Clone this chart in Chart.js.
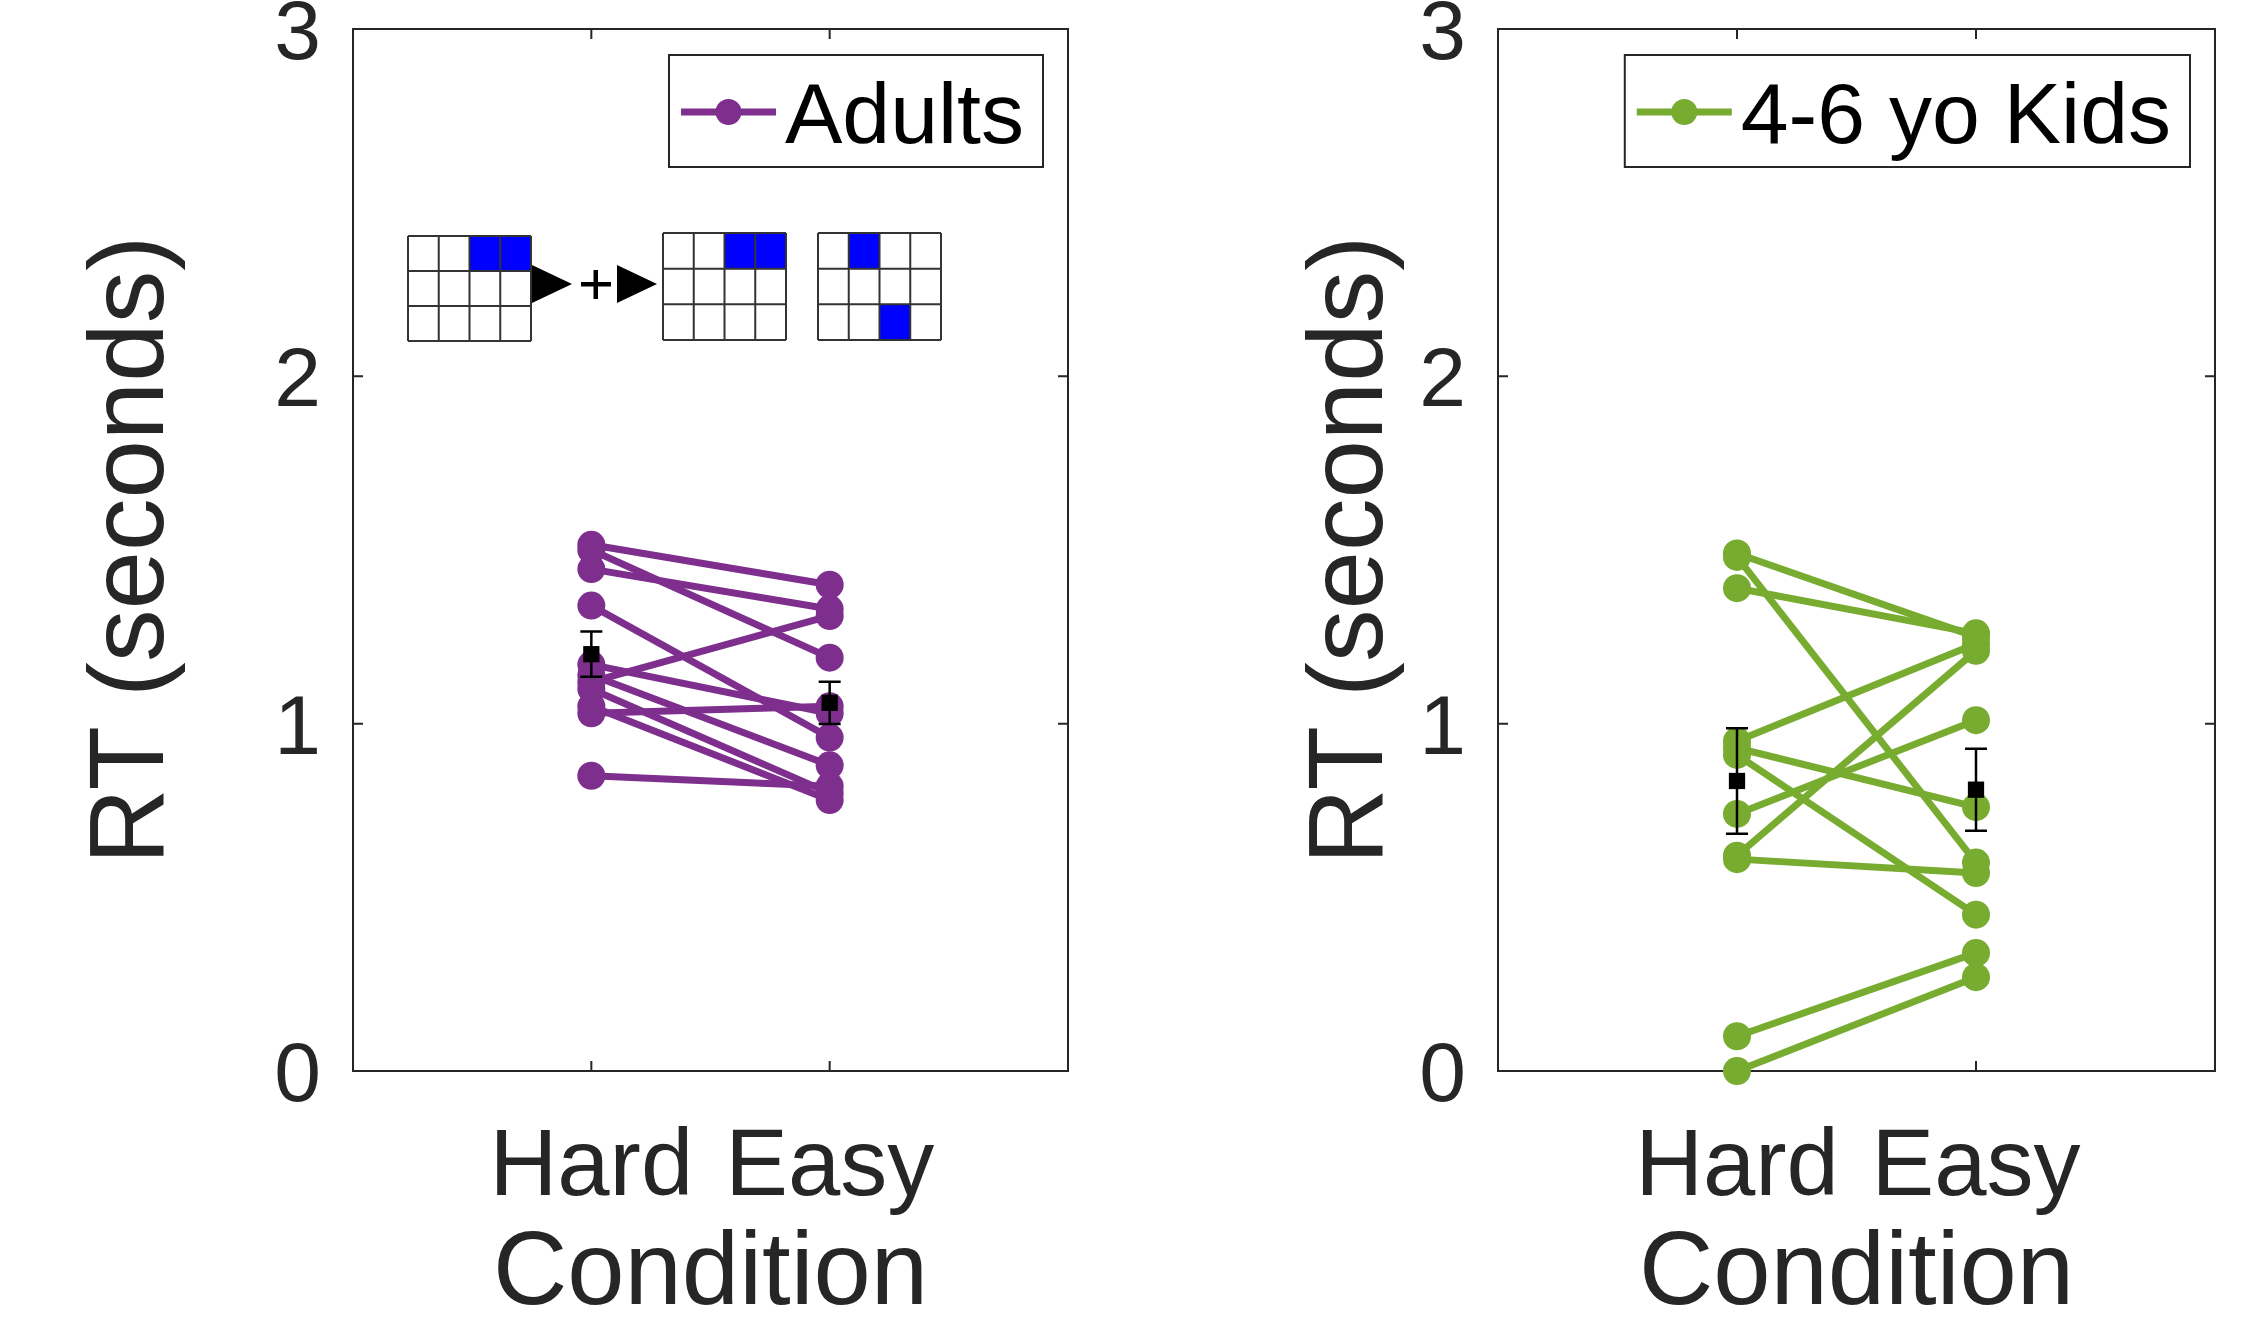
<!DOCTYPE html>
<html>
<head>
<meta charset="utf-8">
<script src="https://cdn.jsdelivr.net/npm/chart.js@4.4.1/dist/chart.umd.min.js"></script>
<style>
  html, body { margin: 0; padding: 0; background: #fff; }
  #wrap { position: relative; width: 2258px; height: 1324px; }
  canvas { position: absolute; top: 0; }
  #adults { left: 0; }
  #kids { left: 1129px; }
</style>
</head>
<body>
<div id="wrap">
  <canvas id="adults" width="1129" height="1324"></canvas>
  <canvas id="kids" width="1129" height="1324"></canvas>
</div>
<script>
// x categories (placed at x = 1, 2 on a 0..3 axis)
const conditions = ["Hard", "Easy"];
const yTicks = [0, 1, 2, 3];

// RT in seconds per subject
const adultsHard = [1.515, 1.50, 1.445, 1.34, 1.17, 1.14, 1.12, 1.10, 1.05, 1.03, 0.85];
const adultsEasy = [1.40, 1.19, 1.33, 0.96, 1.03, 0.88, 1.31, 0.80, 0.78, 1.05, 0.82];
const kidsHard = [1.49, 1.48, 1.39, 0.95, 0.93, 0.91, 0.74, 0.62, 0.61, 0.10, 0.00];
const kidsEasy = [1.25, 0.60, 1.26, 1.23, 0.76, 0.45, 1.01, 1.21, 0.57, 0.34, 0.27];

// group means and error bars (Hard, Easy)
const adultsMean = [1.20, 1.06];
const adultsErr = [0.065, 0.061];
const kidsMean = [0.835, 0.81];
const kidsErr = [0.152, 0.118];

const PURPLE = "#7E2F8E";
const GREEN = "#77AC30";
const AXIS = "#262626";
const FONT = "'Liberation Sans', Arial, sans-serif";

Chart.defaults.font.family = FONT;
Chart.defaults.color = AXIS;

// box round the plot with inward ticks on all four sides
const axesBox = {
  id: "axesBox",
  beforeDatasetsDraw(chart) {
    const { ctx, chartArea: a, scales: { x, y } } = chart;
    const len = 10;
    ctx.save();
    ctx.strokeStyle = AXIS;
    ctx.lineWidth = 2;
    ctx.strokeRect(a.left, a.top, a.right - a.left, a.bottom - a.top);
    ctx.beginPath();
    x.ticks.forEach(t => {
      const px = x.getPixelForValue(t.value);
      ctx.moveTo(px, a.bottom); ctx.lineTo(px, a.bottom - len);
      ctx.moveTo(px, a.top); ctx.lineTo(px, a.top + len);
    });
    y.ticks.forEach(t => {
      const py = y.getPixelForValue(t.value);
      ctx.moveTo(a.left, py); ctx.lineTo(a.left + len, py);
      ctx.moveTo(a.right, py); ctx.lineTo(a.right - len, py);
    });
    ctx.stroke();
    ctx.restore();
  }
};

// black error bars round the group means
const errorBars = {
  id: "errorBars",
  afterDatasetsDraw(chart, args, opts) {
    const { ctx, scales: { x, y } } = chart;
    ctx.save();
    ctx.strokeStyle = "#000";
    ctx.lineWidth = 2.5;
    ctx.beginPath();
    opts.mean.forEach((m, i) => {
      const px = x.getPixelForValue(i + 1);
      const top = y.getPixelForValue(m + opts.err[i]);
      const bot = y.getPixelForValue(m - opts.err[i]);
      ctx.moveTo(px, top); ctx.lineTo(px, bot);
      ctx.moveTo(px - 11, top); ctx.lineTo(px + 11, top);
      ctx.moveTo(px - 11, bot); ctx.lineTo(px + 11, bot);
    });
    ctx.stroke();
    ctx.restore();
  }
};

// legend in a box: line + marker sample, then the label
const lineLegend = {
  id: "lineLegend",
  afterDraw(chart, args, opts) {
    const { ctx, chartArea: a } = chart;
    ctx.save();
    ctx.font = "86px " + FONT;
    const tw = ctx.measureText(opts.text).width;
    const w = 12 + 95 + 9 + tw + 19;
    const h = 112;
    const bx = a.right - 25 - w;
    const by = a.top + 26;
    ctx.fillStyle = "#fff";
    ctx.fillRect(bx, by, w, h);
    ctx.strokeStyle = AXIS;
    ctx.lineWidth = 2;
    ctx.strokeRect(bx, by, w, h);
    const cy = by + 57;
    ctx.strokeStyle = opts.color;
    ctx.lineWidth = 7;
    ctx.beginPath();
    ctx.moveTo(bx + 12, cy); ctx.lineTo(bx + 107, cy);
    ctx.stroke();
    ctx.fillStyle = opts.color;
    ctx.beginPath();
    ctx.arc(bx + 59.5, cy, 13, 0, Math.PI * 2);
    ctx.fill();
    ctx.fillStyle = "#000";
    ctx.textBaseline = "alphabetic";
    ctx.fillText(opts.text, bx + 116, by + 88);
    ctx.restore();
  }
};

// task illustration in the adults panel (grids, arrows, plus)
const taskInset = {
  id: "taskInset",
  afterDraw(chart, args, opts) {
    if (!opts.show) return;
    const { ctx, chartArea: a } = chart;
    const ox = a.left, oy = a.top;
    const grid = (gx, gy, w, h, blue) => {
      const cw = w / 4, ch = h / 3;
      ctx.fillStyle = "#fff";
      ctx.fillRect(gx, gy, w, h);
      ctx.fillStyle = "#0000FF";
      blue.forEach(([r, c]) => ctx.fillRect(gx + c * cw, gy + r * ch, cw, ch));
      ctx.strokeStyle = "#333";
      ctx.lineWidth = 2;
      ctx.beginPath();
      for (let c = 0; c <= 4; c++) { ctx.moveTo(gx + c * cw, gy); ctx.lineTo(gx + c * cw, gy + h); }
      for (let r = 0; r <= 3; r++) { ctx.moveTo(gx, gy + r * ch); ctx.lineTo(gx + w, gy + r * ch); }
      ctx.stroke();
    };
    const tri = (tx, ty) => {
      ctx.fillStyle = "#000";
      ctx.beginPath();
      ctx.moveTo(tx, ty); ctx.lineTo(tx, ty + 38); ctx.lineTo(tx + 40, ty + 19);
      ctx.closePath();
      ctx.fill();
    };
    ctx.save();
    grid(ox + 55, oy + 207, 123, 105, [[0, 2], [0, 3]]);
    tri(ox + 179, oy + 236);
    ctx.fillStyle = "#000";
    ctx.fillRect(ox + 228, oy + 253, 30, 4.5);
    ctx.fillRect(ox + 240.5, oy + 241, 4.5, 29);
    tri(ox + 264, oy + 236);
    grid(ox + 310, oy + 204, 123, 107, [[0, 2], [0, 3]]);
    grid(ox + 465, oy + 204, 123, 107, [[0, 1], [2, 2]]);
    ctx.restore();
  }
};

function makePanel(canvasId, hard, easy, mean, err, color, label, cfg) {
  const subjects = hard.map((h, i) => ({
    type: "scatter",
    data: [{ x: 1, y: h }, { x: 2, y: easy[i] }],
    showLine: true,
    borderColor: color,
    borderWidth: 7,
    pointRadius: 14,
    pointBorderWidth: 0,
    pointBackgroundColor: color,
    clip: false,
    order: 1
  }));
  const means = {
    type: "scatter",
    data: mean.map((m, i) => ({ x: i + 1, y: m })),
    pointStyle: "rect",
    pointRadius: 11.5,
    pointBorderWidth: 0,
    pointBackgroundColor: "#000",
    clip: false,
    order: -1
  };

  return new Chart(document.getElementById(canvasId), {
    type: "scatter",
    data: { datasets: [...subjects, means] },
    plugins: [axesBox, errorBars, lineLegend, taskInset],
    options: {
      responsive: false,
      devicePixelRatio: 1,
      animation: false,
      layout: { padding: { top: 29, left: 0, right: cfg.rightPad, bottom: 0 } },
      scales: {
        x: {
          type: "linear",
          min: 0,
          max: 3,
          grid: { display: false, drawTicks: false },
          border: { display: false },
          afterBuildTicks: s => { s.ticks = conditions.map((c, i) => ({ value: i + 1 })); },
          afterFit: s => {
            s.height = 253;
            s.paddingLeft = 0; s.paddingRight = 0;
          },
          ticks: {
            autoSkip: false,
            maxRotation: 0,
            padding: 42,
            color: AXIS,
            font: { size: 94, lineHeight: 1.2 },
            callback: v => conditions[v - 1]
          },
          title: {
            display: true,
            text: "Condition",
            color: AXIS,
            font: { size: 103, lineHeight: 0.94 },
            padding: { top: 0, bottom: 0 }
          }
        },
        y: {
          min: 0,
          max: 3,
          grid: { display: false, drawTicks: false },
          border: { display: false },
          afterBuildTicks: s => { s.ticks = yTicks.map(v => ({ value: v })); },
          afterFit: s => {
            s.width = cfg.yWidth;
            s.paddingTop = 0; s.paddingBottom = 0;
          },
          ticks: {
            padding: 32,
            labelOffset: 7,
            color: AXIS,
            font: { size: 84, lineHeight: 1.2 }
          },
          title: {
            display: true,
            text: "RT (seconds)",
            color: AXIS,
            font: { size: 105, lineHeight: 1.2 },
            padding: { top: cfg.titlePad, bottom: 0 }
          }
        }
      },
      plugins: {
        legend: { display: false },
        tooltip: { enabled: false },
        errorBars: { mean, err },
        lineLegend: { text: label, color },
        taskInset: { show: cfg.inset }
      }
    }
  });
}

makePanel("adults", adultsHard, adultsEasy, adultsMean, adultsErr, PURPLE, "Adults",
  { yWidth: 353, rightPad: 61, titlePad: 71, inset: true });
makePanel("kids", kidsHard, kidsEasy, kidsMean, kidsErr, GREEN, "4-6 yo Kids",
  { yWidth: 369, rightPad: 43, titlePad: 161, inset: false });
</script>
</body>
</html>
